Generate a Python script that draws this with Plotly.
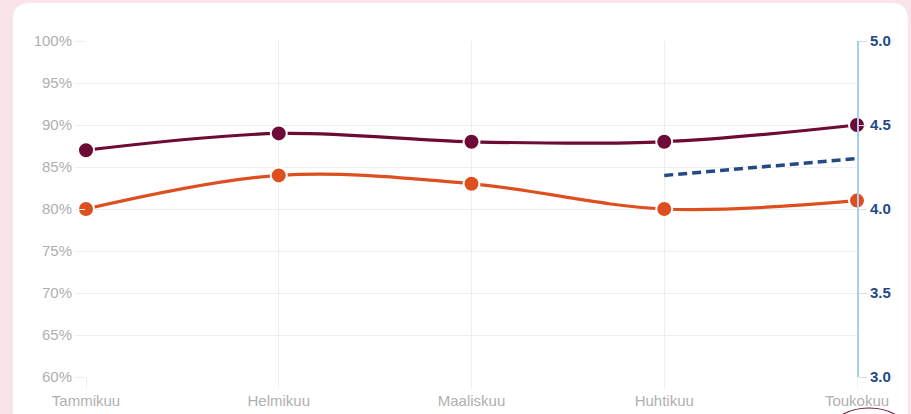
import plotly.graph_objects as go

months = ["Tammikuu", "Helmikuu", "Maaliskuu", "Huhtikuu", "Toukokuu"]
series_a = [87, 89, 88, 88, 90]          # maroon, %
series_b = [80, 84, 83, 80, 81]          # orange, %
score_months = ["Huhtikuu", "Toukokuu"]
score_vals = [4.2, 4.3]                  # right axis
left_ticks = [60, 65, 70, 75, 80, 85, 90, 95, 100]
right_ticks = [3.0, 3.5, 4.0, 4.5, 5.0]

MAROON = "#6d0a36"
ORANGE = "#de4f1f"
NAVY = "#234a85"
GRID = "#eeeeee"
FONT = "Liberation Sans, Arial, sans-serif"

fig = go.Figure()
fig.add_trace(go.Scatter(
    x=months, y=series_a, mode="lines+markers",
    line=dict(color=MAROON, width=3.2, shape="spline", smoothing=1),
    marker=dict(size=16, color=MAROON, line=dict(color="white", width=2)),
    showlegend=False, cliponaxis=False))
fig.add_trace(go.Scatter(
    x=months, y=series_b, mode="lines+markers",
    line=dict(color=ORANGE, width=3.2, shape="spline", smoothing=1),
    marker=dict(size=16, color=ORANGE, line=dict(color="white", width=2)),
    showlegend=False, cliponaxis=False))
fig.add_trace(go.Scatter(
    x=score_months, y=score_vals, mode="lines", yaxis="y2",
    line=dict(color=NAVY, width=3.5, dash="9px,5px"),
    showlegend=False))

# card geometry (paper coordinates)
L, R, T, B = -0.0947, 1.066, 1.113, -0.2
rx, ry = 0.022, 0.05
card = (f"M {L+rx} {T} L {R-rx} {T} Q {R} {T} {R} {T-ry} "
        f"L {R} {B} L {L} {B} L {L} {T-ry} Q {L} {T} {L+rx} {T} Z")

fig.update_layout(
    width=911, height=414,
    margin=dict(l=86, r=54, t=41, b=37, autoexpand=False),
    paper_bgcolor="#f9e4e9",
    plot_bgcolor="white",
    font=dict(family=FONT, size=15, color="#b0b0b0"),
    xaxis=dict(
        type="category", categoryorder="array", categoryarray=months,
        range=[0, 4], showgrid=True, gridcolor=GRID, gridwidth=1,
        ticks="outside", ticklen=10, tickcolor=GRID,
        showline=False, zeroline=False, automargin=False,
        tickfont=dict(size=15, color="#b0b0b0")),
    yaxis=dict(
        range=[60, 100], tickvals=left_ticks,
        ticktext=[f"{v}%" for v in left_ticks],
        showgrid=True, gridcolor=GRID, gridwidth=1,
        ticks="outside", ticklen=10, tickcolor=GRID,
        showline=False, zeroline=False, automargin=False,
        tickfont=dict(size=15, color="#b0b0b0")),
    yaxis2=dict(
        overlaying="y", side="right", range=[3.0, 5.0],
        tickvals=right_ticks, ticktext=[f"{v:.1f}" for v in right_ticks],
        showgrid=False, zeroline=False, automargin=False,
        showline=True, linecolor="#a9cdf2", linewidth=2,
        ticks="outside", ticklen=8, tickcolor="#dddddd",
        tickfont=dict(size=15, color=NAVY, family=FONT, weight="bold")),
    shapes=[
        dict(type="path", xref="paper", yref="paper", path=card,
             fillcolor="white", line=dict(width=0), layer="below"),
        dict(type="circle", xref="paper", yref="paper",
             x0=(826-86)/771, x1=(912-86)/771,
             y0=(377-470)/336, y1=(377-408)/336,
             line=dict(color=MAROON, width=1.2), fillcolor="rgba(0,0,0,0)",
             layer="above"),
    ],
)

fig.write_html("out.html", config={"displayModeBar": False},
               post_script="document.body.style.margin='0';document.body.style.overflow='hidden';")
